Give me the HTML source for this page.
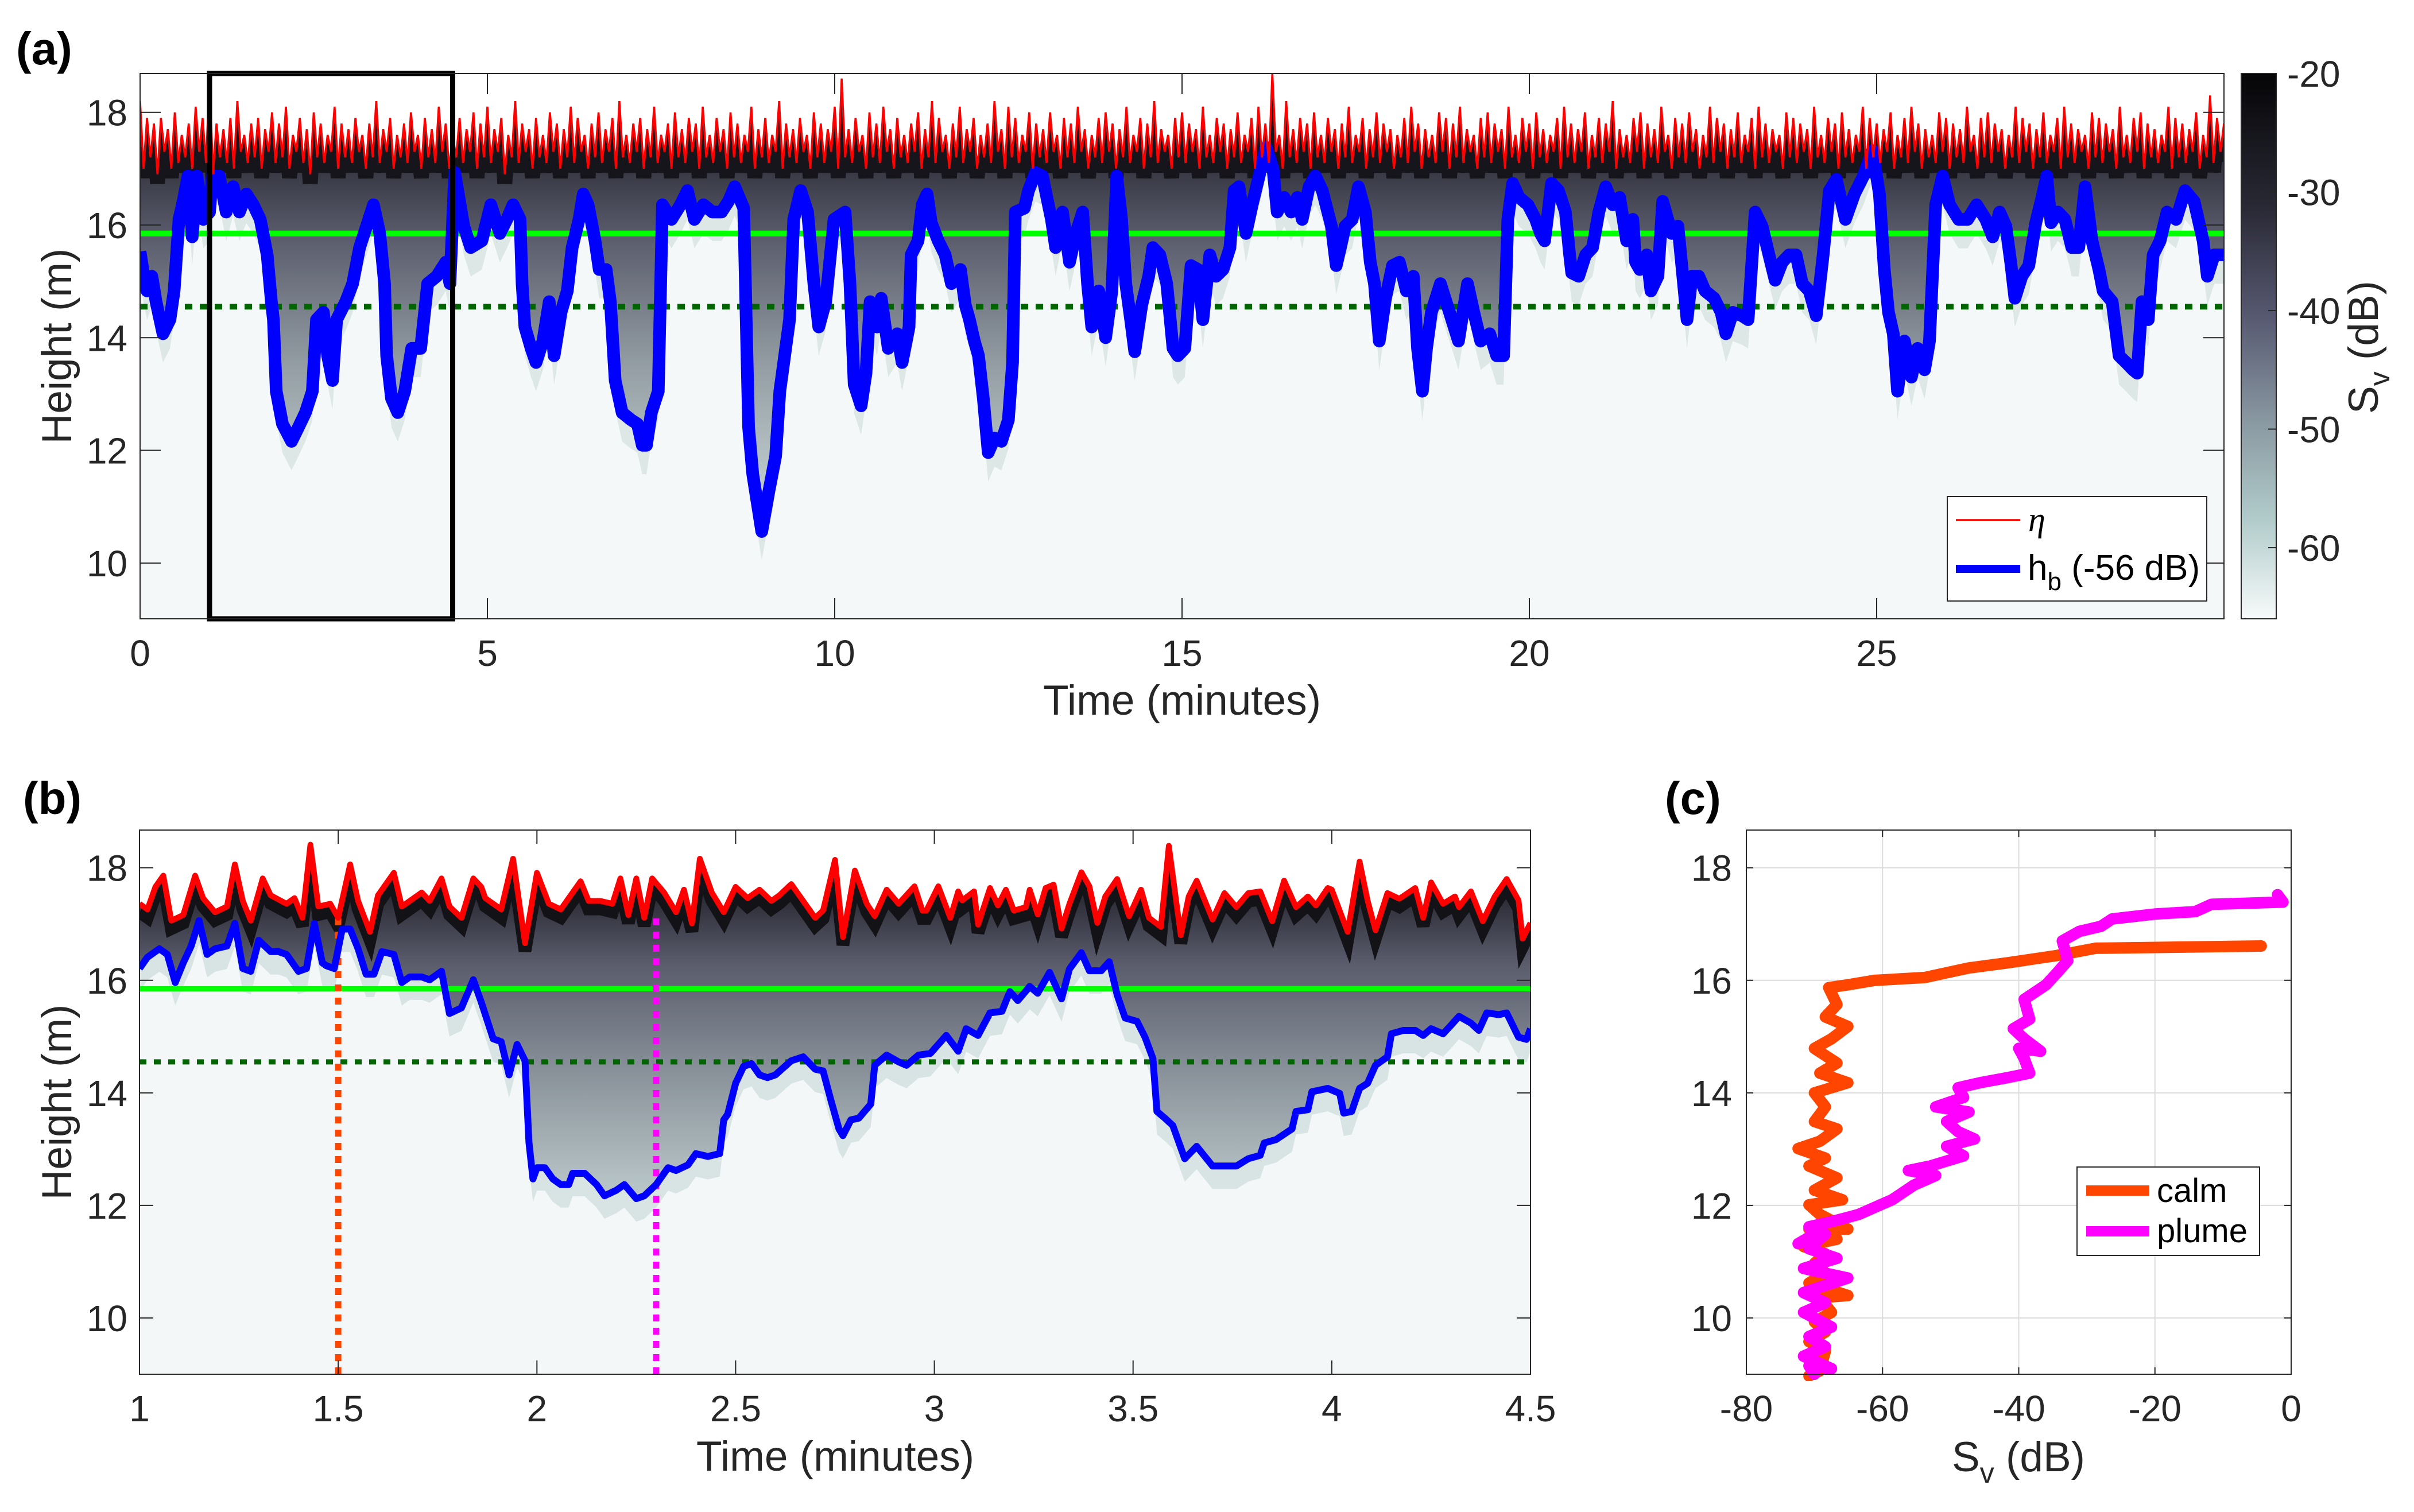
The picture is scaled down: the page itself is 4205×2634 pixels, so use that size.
<!DOCTYPE html>
<html><head><meta charset="utf-8"><style>
html,body{margin:0;padding:0;background:#fff;}
svg{display:block;font-family:"Liberation Sans",Arial,sans-serif;}
</style></head><body>
<svg id="fig" width="4205" height="2634" viewBox="0 0 4205 2634" xmlns="http://www.w3.org/2000/svg">
<defs>
<linearGradient id="cbGrad" x1="0" y1="0" x2="0" y2="1">
<stop offset="0" stop-color="#050507"/><stop offset="0.25" stop-color="#2a2a36"/><stop offset="0.45" stop-color="#585a72"/><stop offset="0.65" stop-color="#8c9ca4"/><stop offset="0.82" stop-color="#b2cccb"/><stop offset="1" stop-color="#f7fafa"/>
</linearGradient>
<linearGradient id="echoA" gradientUnits="userSpaceOnUse" x1="0" y1="250" x2="0" y2="900">
<stop offset="0" stop-color="#2a2a34"/><stop offset="0.25" stop-color="#5a5c6c"/><stop offset="0.6" stop-color="#949ea4"/><stop offset="1" stop-color="#c8d6d6"/>
</linearGradient>
<linearGradient id="echoB" gradientUnits="userSpaceOnUse" x1="0" y1="1560" x2="0" y2="2150">
<stop offset="0" stop-color="#2a2a34"/><stop offset="0.2" stop-color="#5a5c6c"/><stop offset="0.6" stop-color="#949ea4"/><stop offset="1" stop-color="#cad8d8"/>
</linearGradient>
</defs>
<g id="root"></g>
</svg>
<script>
// ---------- DATA ----------
// Panel (a) wave surface eta, sampled every 0.05 min from 0 to 30 min
const etaA = [
18.2,17.0,17.9,17.2,17.8,16.9,17.9,17.3,17.7,17.0,18.0,17.1,17.6,17.2,17.8,17.0,18.1,17.3,17.9,17.1,
18.6,16.9,17.8,17.2,17.7,17.1,17.9,17.0,18.2,17.3,17.6,17.1,17.8,17.2,17.9,17.0,17.7,17.3,18.0,17.1,
17.8,17.2,18.1,17.0,17.6,17.3,17.9,17.1,17.7,16.9,18.0,17.2,17.8,17.1,17.6,17.3,18.1,17.0,17.8,17.2,
17.7,17.1,17.9,17.3,17.6,17.0,17.8,17.2,18.2,17.1,17.7,17.3,17.9,17.0,17.6,17.2,17.8,17.1,18.0,17.3,
17.6,17.0,17.9,17.2,17.7,17.1,18.1,17.3,17.8,17.0,17.6,17.2,17.9,17.1,17.7,17.3,18.0,17.0,17.8,17.2,
18.1,17.1,17.7,17.3,17.9,16.9,17.6,17.2,18.2,17.1,17.8,17.3,17.7,17.0,17.9,17.2,17.6,17.1,18.0,17.3,
17.8,17.0,17.7,17.2,18.1,17.1,17.9,17.3,17.6,17.0,17.8,17.2,18.0,17.1,17.7,17.3,17.9,17.0,18.2,17.2,
17.6,17.1,17.8,17.3,17.9,17.0,17.7,17.2,18.1,17.1,17.6,17.3,17.8,17.0,18.0,17.2,17.7,17.1,17.9,17.3,
17.8,17.0,18.1,17.2,17.6,17.1,17.9,17.3,17.7,17.0,18.0,17.2,17.8,17.1,17.6,17.3,18.1,17.0,17.7,17.2,
17.9,17.1,17.6,17.3,18.2,17.0,17.8,17.2,17.7,17.1,17.9,17.3,17.6,17.0,18.0,17.2,17.8,17.1,17.7,17.3,
18.1,17.0,18.6,17.2,17.7,17.1,17.9,17.3,17.6,17.0,18.0,17.2,17.8,17.1,18.1,17.3,17.7,17.0,17.9,17.2,
17.6,17.1,17.8,17.3,18.0,17.0,17.7,17.2,18.2,17.1,17.9,17.3,17.6,17.0,17.8,17.2,18.1,17.1,17.7,17.3,
17.9,17.0,17.6,17.2,17.8,17.1,18.2,17.3,17.7,17.0,18.1,17.2,17.9,17.1,17.6,17.3,18.0,17.0,17.8,17.2,
17.7,17.1,18.0,17.3,17.6,17.0,17.9,17.2,17.8,17.1,18.1,17.3,17.7,17.0,17.6,17.2,17.9,17.1,18.0,17.3,
17.8,17.0,17.7,17.2,18.1,17.1,17.6,17.3,17.9,17.0,17.8,17.2,18.2,17.1,17.7,17.3,17.6,17.0,17.9,17.2,
18.0,17.1,17.8,17.3,17.7,17.0,18.1,17.2,17.6,17.1,17.9,17.3,17.8,17.0,17.7,17.2,18.0,17.1,17.6,17.3,
17.9,17.0,18.1,17.2,17.8,17.1,18.7,17.3,17.6,17.0,18.2,17.2,17.7,17.1,17.9,17.3,17.8,17.0,18.0,17.2,
17.6,17.1,17.9,17.3,17.7,17.0,17.8,17.2,18.1,17.1,17.6,17.3,17.9,17.0,17.7,17.2,18.0,17.1,17.8,17.3,
17.7,17.0,17.6,17.2,17.9,17.1,18.1,17.3,17.8,17.0,17.7,17.2,17.6,17.1,18.0,17.3,17.9,17.0,17.8,17.2,
18.1,17.1,17.7,17.3,17.6,17.0,17.9,17.2,18.0,17.1,17.8,17.3,17.7,17.0,18.1,17.2,17.6,17.1,17.9,17.3,
17.8,17.0,18.0,17.2,17.7,17.1,17.6,17.3,17.9,17.0,18.1,17.2,17.8,17.1,17.7,17.3,18.0,17.0,17.6,17.2,
17.9,17.1,17.8,17.3,18.2,17.0,17.7,17.2,17.6,17.1,17.9,17.3,18.0,17.0,17.8,17.2,17.7,17.1,18.1,17.3,
17.6,17.0,17.9,17.2,17.8,17.1,18.0,17.3,17.7,17.0,17.6,17.2,18.1,17.1,17.9,17.3,17.8,17.0,17.7,17.2,
18.0,17.1,17.6,17.3,17.9,17.0,18.1,17.2,17.8,17.1,17.7,17.3,17.6,17.0,18.0,17.2,17.9,17.1,17.8,17.3,
17.7,17.0,18.1,17.2,17.6,17.1,17.9,17.3,17.8,17.0,18.0,17.2,17.7,17.1,17.6,17.3,18.1,17.0,17.9,17.2,
17.8,17.1,17.7,17.3,18.0,17.0,17.6,17.2,17.9,17.1,18.1,17.3,17.8,17.0,17.7,17.2,17.6,17.1,18.0,17.3,
17.9,17.0,17.8,17.2,17.7,17.1,18.1,17.3,17.6,17.0,17.9,17.2,18.0,17.1,17.8,17.3,17.7,17.0,17.6,17.2,
18.1,17.1,17.9,17.3,17.8,17.0,17.7,17.2,18.0,17.1,17.6,17.3,17.9,17.0,18.1,17.2,17.8,17.1,17.7,17.3,
17.6,17.0,18.0,17.2,17.9,17.1,17.8,17.3,17.7,17.0,18.1,17.2,17.6,17.1,17.9,17.3,18.0,17.0,17.8,17.2,
17.7,17.1,17.6,17.3,18.1,17.0,17.9,17.2,17.8,17.1,17.7,17.3,18.0,17.0,17.6,17.2,18.3,17.1,17.9,17.3,17.8
];
const etaAStep = 0.05;
// Panel (a) bubble-plume depth hb (time in minutes, height in m)
const hbAT = [0,0.04,0.10,0.17,0.23,0.33,0.43,0.49,0.56,0.62,0.69,0.75,0.82,0.91,1.00,1.04,1.14,1.24,1.34,1.43,1.53,1.63,1.73,1.83,1.89,1.92,1.96,2.05,2.18,2.28,2.38,2.48,2.54,2.64,2.70,2.77,2.83,2.96,3.06,3.16,3.26,3.36,3.45,3.52,3.55,3.62,3.71,3.81,3.91,4.04,4.14,4.27,4.40,4.46,4.53,4.66,4.76,4.92,5.05,5.18,5.28,5.37,5.47,5.50,5.54,5.63,5.70,5.80,5.89,5.96,6.06,6.15,6.22,6.32,6.38,6.45,6.55,6.61,6.71,6.77,6.84,6.94,7.07,7.16,7.23,7.29,7.36,7.46,7.52,7.65,7.78,7.88,7.98,8.11,8.24,8.37,8.47,8.56,8.69,8.76,8.82,8.95,9.05,9.15,9.21,9.35,9.41,9.51,9.61,9.70,9.77,9.87,9.99,10.15,10.22,10.28,10.38,10.45,10.51,10.61,10.67,10.77,10.90,10.97,11.07,11.10,11.20,11.26,11.33,11.39,11.49,11.59,11.68,11.81,11.88,11.94,12.01,12.07,12.14,12.21,12.30,12.40,12.50,12.56,12.60,12.73,12.79,12.89,12.99,13.12,13.18,13.28,13.38,13.47,13.57,13.64,13.70,13.80,13.90,13.99,14.06,14.13,14.19,14.26,14.32,14.42,14.52,14.58,14.68,14.78,14.87,14.94,15.04,15.13,15.23,15.30,15.40,15.49,15.59,15.69,15.75,15.82,15.92,16.01,16.11,16.21,16.31,16.37,16.47,16.57,16.66,16.73,16.83,16.92,17.02,17.15,17.22,17.28,17.35,17.45,17.54,17.64,17.71,17.77,17.84,17.93,18.03,18.13,18.23,18.33,18.39,18.46,18.52,18.59,18.72,18.85,18.98,19.11,19.20,19.30,19.43,19.53,19.63,19.69,19.76,19.85,19.98,20.09,20.16,20.22,20.32,20.42,20.52,20.58,20.61,20.71,20.81,20.91,21.00,21.10,21.20,21.30,21.40,21.49,21.53,21.59,21.69,21.75,21.85,21.92,22.05,22.14,22.27,22.34,22.44,22.53,22.66,22.76,22.83,22.93,23.06,23.15,23.25,23.35,23.45,23.54,23.64,23.74,23.84,23.93,24.03,24.13,24.23,24.32,24.42,24.55,24.68,24.81,24.94,25.04,25.11,25.17,25.24,25.30,25.40,25.50,25.59,25.69,25.76,25.85,25.95,26.05,26.18,26.31,26.44,26.57,26.67,26.77,26.86,26.93,26.99,27.09,27.19,27.29,27.38,27.45,27.51,27.61,27.71,27.81,27.91,28.00,28.10,28.20,28.26,28.39,28.49,28.59,28.69,28.75,28.82,28.91,28.98,29.08,29.18,29.31,29.44,29.57,29.70,29.76,29.86,29.92,30.0];
const hbAH = [15.53,15.21,14.83,15.09,14.64,14.07,14.32,14.83,16.10,16.42,16.87,15.79,16.87,16.10,16.23,16.87,16.87,16.23,16.68,16.23,16.55,16.36,16.10,15.47,14.64,14.32,13.05,12.47,12.16,12.41,12.67,13.05,14.32,14.45,13.68,13.24,14.32,14.64,14.96,15.60,15.98,16.36,15.85,14.96,13.68,12.92,12.67,13.05,13.81,13.81,14.96,15.09,15.34,14.96,16.93,15.98,15.60,15.72,16.36,15.85,16.10,16.36,16.10,14.96,14.19,13.81,13.56,13.94,14.64,13.68,14.45,14.83,15.60,16.10,16.55,16.36,15.72,15.21,15.21,14.64,13.24,12.67,12.54,12.47,12.09,12.09,12.67,13.05,16.36,16.10,16.36,16.61,16.10,16.36,16.23,16.23,16.42,16.68,16.30,12.41,11.58,10.56,11.26,11.90,13.05,14.32,16.10,16.61,16.23,14.96,14.19,14.64,16.10,16.23,14.96,13.17,12.79,13.37,14.64,14.19,14.70,13.81,14.07,13.56,14.19,15.47,15.72,16.36,16.55,16.04,15.72,15.47,14.96,15.21,14.58,14.32,13.94,13.68,12.92,11.96,12.22,12.16,12.54,13.56,16.23,16.30,16.61,16.93,16.87,16.10,15.60,16.23,15.34,15.85,16.23,14.96,14.19,14.83,14.00,14.83,16.87,16.10,14.96,14.32,13.75,14.58,15.09,15.60,15.47,14.96,13.81,13.68,13.81,15.28,15.21,14.32,15.47,15.09,15.21,15.60,16.61,16.68,15.85,16.36,16.87,17.38,17.00,16.23,16.49,16.23,16.49,16.10,16.68,16.87,16.61,15.98,15.28,15.60,15.98,16.10,16.68,16.23,15.34,14.96,13.94,14.70,15.28,15.34,14.83,15.09,13.81,13.05,13.81,14.45,14.96,14.45,13.94,14.96,14.45,13.94,14.07,13.68,13.68,16.10,16.74,16.49,16.36,16.10,15.85,15.72,16.74,16.61,16.23,15.47,15.15,15.09,15.47,15.60,16.23,16.68,16.36,16.49,15.72,16.10,15.34,15.21,15.47,14.83,15.09,16.42,15.85,15.98,14.32,15.09,15.09,14.83,14.70,14.45,14.07,14.45,14.39,14.32,16.23,15.98,15.47,15.02,15.34,15.47,15.47,14.96,14.83,14.39,15.47,16.61,16.81,16.10,16.55,16.87,17.32,16.55,15.21,14.45,14.07,13.05,13.94,13.30,13.81,13.43,13.94,16.36,16.87,16.36,16.10,16.10,16.36,16.10,15.79,16.23,15.98,15.34,14.70,15.09,15.28,16.04,16.49,16.87,16.04,16.23,16.10,15.60,15.60,16.68,15.72,15.21,14.83,14.64,13.68,13.56,13.43,13.37,14.64,14.32,15.47,15.72,16.23,16.10,16.61,16.42,15.72,15.09,15.47,15.47,15.47];
// Panel (b) zoom 1-4.5 min
const etaBT = [1.00,1.02,1.04,1.06,1.08,1.11,1.14,1.16,1.19,1.22,1.24,1.26,1.28,1.31,1.33,1.37,1.39,1.41,1.43,1.45,1.48,1.50,1.53,1.55,1.58,1.60,1.64,1.66,1.68,1.71,1.73,1.76,1.78,1.81,1.84,1.86,1.87,1.91,1.94,1.97,2.00,2.03,2.06,2.09,2.11,2.13,2.16,2.19,2.21,2.23,2.25,2.27,2.29,2.32,2.35,2.37,2.39,2.41,2.44,2.47,2.50,2.53,2.56,2.59,2.61,2.64,2.70,2.72,2.75,2.77,2.80,2.83,2.85,2.88,2.91,2.95,2.97,2.98,3.01,3.03,3.04,3.06,3.07,3.10,3.11,3.14,3.16,3.18,3.20,3.23,3.24,3.26,3.28,3.30,3.32,3.34,3.37,3.39,3.41,3.43,3.46,3.49,3.52,3.54,3.57,3.59,3.62,3.64,3.66,3.70,3.73,3.76,3.79,3.82,3.85,3.88,3.91,3.94,3.96,3.99,4.00,4.04,4.07,4.09,4.11,4.14,4.17,4.21,4.23,4.25,4.28,4.31,4.32,4.35,4.38,4.41,4.44,4.47,4.48,4.50];
const etaBH = [17.36,17.26,17.66,17.86,17.06,17.16,17.86,17.46,17.21,17.31,18.06,17.41,17.06,17.81,17.51,17.36,17.46,17.11,18.41,17.31,17.36,17.11,18.06,17.41,16.86,17.51,17.91,17.31,17.41,17.56,17.41,17.81,17.31,17.11,17.81,17.66,17.46,17.26,18.16,16.66,17.91,17.36,17.26,17.56,17.76,17.41,17.41,17.36,17.81,17.16,17.81,17.11,17.81,17.56,17.21,17.61,17.01,18.16,17.56,17.21,17.66,17.46,17.61,17.41,17.51,17.71,17.11,17.24,18.14,16.77,17.95,17.36,17.14,17.61,17.36,17.67,17.24,17.24,17.67,17.30,17.11,17.58,17.42,17.58,16.99,17.64,17.33,17.61,17.24,17.30,17.61,17.17,17.64,17.70,16.92,17.36,17.92,17.67,17.02,17.49,17.80,17.14,17.61,17.11,16.95,18.39,16.80,17.49,17.77,17.08,17.55,17.30,17.55,17.58,17.05,17.77,17.30,17.49,17.33,17.64,17.61,16.86,18.11,17.42,16.89,17.55,17.45,17.64,17.11,17.74,17.36,17.49,17.30,17.58,17.05,17.49,17.80,17.42,16.74,17.02];
const hbBT = [1.00,1.02,1.05,1.07,1.09,1.11,1.13,1.15,1.17,1.19,1.22,1.24,1.26,1.28,1.30,1.33,1.35,1.37,1.40,1.42,1.44,1.46,1.47,1.49,1.51,1.53,1.55,1.57,1.59,1.61,1.64,1.66,1.68,1.71,1.73,1.76,1.78,1.81,1.84,1.86,1.89,1.91,1.93,1.95,1.97,1.98,1.99,2.00,2.02,2.04,2.06,2.08,2.09,2.12,2.15,2.17,2.20,2.22,2.25,2.27,2.30,2.33,2.35,2.38,2.40,2.43,2.46,2.47,2.48,2.50,2.52,2.54,2.56,2.58,2.60,2.64,2.67,2.70,2.72,2.74,2.76,2.77,2.79,2.81,2.84,2.85,2.88,2.91,2.93,2.96,2.99,3.03,3.06,3.08,3.11,3.14,3.17,3.19,3.21,3.24,3.26,3.29,3.32,3.34,3.37,3.39,3.42,3.44,3.46,3.48,3.51,3.53,3.55,3.56,3.58,3.60,3.63,3.66,3.70,3.73,3.76,3.79,3.82,3.83,3.86,3.90,3.91,3.94,3.95,3.99,4.02,4.03,4.05,4.07,4.09,4.11,4.14,4.15,4.18,4.21,4.23,4.25,4.28,4.30,4.32,4.35,4.37,4.39,4.42,4.44,4.47,4.49,4.50];
const hbBH = [16.21,16.41,16.56,16.46,15.96,16.31,16.61,17.06,16.46,16.56,16.61,17.01,16.21,16.16,16.71,16.51,16.51,16.46,16.16,16.21,17.01,16.31,16.26,16.21,16.91,16.91,16.56,16.11,16.11,16.51,16.46,15.96,16.06,16.06,16.01,16.16,15.41,15.51,16.01,15.61,14.96,14.91,14.32,14.86,14.57,13.12,12.47,12.67,12.67,12.47,12.37,12.37,12.57,12.57,12.37,12.17,12.27,12.37,12.12,12.17,12.37,12.67,12.62,12.72,12.92,12.87,12.92,13.52,13.62,14.17,14.47,14.52,14.32,14.27,14.32,14.57,14.64,14.42,14.39,13.86,13.36,13.24,13.52,13.55,13.80,14.49,14.67,14.55,14.49,14.67,14.70,15.02,14.74,15.14,15.02,15.42,15.45,15.80,15.64,15.89,15.77,16.14,15.67,16.20,16.49,16.17,16.17,16.33,15.74,15.33,15.27,14.99,14.61,13.67,13.55,13.42,12.83,13.05,12.70,12.70,12.70,12.83,12.89,13.11,13.17,13.36,13.67,13.70,14.02,14.08,13.99,13.64,13.67,14.08,14.17,14.49,14.64,15.05,15.11,15.11,15.02,15.14,15.05,15.20,15.36,15.24,15.11,15.42,15.39,15.42,14.99,14.95,15.14];
// Panel (c) Sv profiles
const calmSv = [-70.8,-69.2,-68.4,-70.8,-68.4,-70.0,-67.5,-69.2,-65.1,-70.8,-68.4,-70.0,-68.4,-71.6,-66.7,-70.8,-65.1,-69.2,-70.8,-65.9,-70.0,-66.7,-70.8,-68.4,-72.4,-69.2,-66.7,-70.0,-68.4,-70.0,-65.1,-69.2,-66.7,-70.0,-67.5,-65.1,-68.4,-66.7,-67.9,-65.1,-61.1,-53.8,-47.3,-41.7,-34.4,-28.7,-4.4];
const calmH = [8.97,9.06,9.41,9.58,9.75,9.93,10.10,10.36,10.40,10.62,10.80,10.97,11.14,11.27,11.40,11.58,11.58,11.84,12.01,12.10,12.27,12.49,12.70,12.84,13.01,13.14,13.36,13.49,13.75,14.00,14.18,14.35,14.53,14.79,14.96,15.18,15.35,15.57,15.87,15.92,16.00,16.05,16.22,16.31,16.44,16.57,16.61];
const plumeSv = [-70.0,-70.8,-67.5,-71.6,-68.4,-70.8,-67.5,-71.6,-68.4,-71.6,-65.1,-71.6,-66.7,-70.8,-68.4,-72.4,-70.0,-70.8,-67.5,-63.5,-60.3,-58.6,-55.4,-52.2,-56.2,-53.0,-48.1,-50.6,-46.5,-48.9,-50.6,-47.3,-52.2,-48.1,-48.9,-45.7,-41.7,-38.4,-39.2,-40.0,-36.8,-39.2,-40.8,-38.4,-39.2,-36.0,-34.4,-32.8,-33.6,-31.1,-27.9,-26.3,-19.8,-14.1,-11.7,-1.2,-2.0];
const plumeH = [9.00,9.15,9.10,9.32,9.49,9.67,9.84,10.10,10.27,10.45,10.71,10.88,11.06,11.23,11.49,11.32,11.49,11.62,11.71,11.84,12.01,12.10,12.36,12.53,12.62,12.70,12.88,13.05,13.18,13.31,13.49,13.66,13.75,13.92,14.09,14.18,14.27,14.35,14.61,14.79,14.74,14.96,15.14,15.31,15.66,15.92,16.13,16.35,16.70,16.87,16.96,17.09,17.18,17.22,17.35,17.39,17.52];
// Ticks
const ticksAX = [0,5,10,15,20,25];
const ticksY = [10,12,14,16,18];
const ticksBX = [1,1.5,2,2.5,3,3.5,4,4.5];
const ticksBXLabels = ["1","1.5","2","2.5","3","3.5","4","4.5"];
const ticksCX = [-80,-60,-40,-20,0];
const ticksCB = [-20,-30,-40,-50,-60];
const refLines = [15.85,14.55];   // solid green, dotted dark green
const zoomWindow = [1,4.5];
const profileTimes = [1.5,2.3];   // calm, plume
const profileTop = [17.16,17.16];

// ---------- SCALES ----------
const A = {x0:244,x1:3874,y0:128,y1:1078,tmin:0,tmax:30,hmin:9.01,hmax:18.69};
const B = {x0:243,x1:2666,y0:1446,y1:2394,tmin:1,tmax:4.5,hmin:9.0,hmax:18.67};
const C = {x0:3042,x1:3991,y0:1446,y1:2394,tmin:-80,tmax:0,hmin:9.0,hmax:18.67};
const CB = {x0:3904,x1:3965,y0:128,y1:1078,vmin:-66,vmax:-20};
function sx(P,t){return P.x0+(t-P.tmin)/(P.tmax-P.tmin)*(P.x1-P.x0);}
function sy(P,h){return P.y1-(h-P.hmin)/(P.hmax-P.hmin)*(P.y1-P.y0);}
function cby(v){return CB.y1-(v-CB.vmin)/(CB.vmax-CB.vmin)*(CB.y1-CB.y0);}

const NS='http://www.w3.org/2000/svg';
const root=document.getElementById('root');
function el(tag,attrs,parent){const e=document.createElementNS(NS,tag);for(const k in attrs)e.setAttribute(k,attrs[k]);(parent||root).appendChild(e);return e;}
function txt(s,attrs,parent){const e=el('text',attrs,parent);e.textContent=s;return e;}
function pts(P,T,H){let s='';for(let i=0;i<T.length;i++){s+=sx(P,T[i]).toFixed(1)+','+sy(P,H[i]).toFixed(1)+' ';}return s;}
const etaAT = etaA.map((v,i)=>i*etaAStep);

// ---------- PANEL A ----------
const ga=el('g',{});


let clipA=el('clipPath',{id:'clipA'});el('rect',{x:A.x0,y:A.y0,width:A.x1-A.x0,height:A.y1-A.y0},clipA);
const bgA=el('rect',{x:A.x0,y:A.y0,width:A.x1-A.x0,height:A.y1-A.y0,fill:'#f5f8f8'},ga);


const inA=el('g',{'clip-path':'url(#clipA)'},ga);
const hazeA=el('polygon',{points:pts(A,hbAT,hbAH.map(h=>h+0.2))+sx(A,30)+','+A.y0+' '+sx(A,0)+','+A.y0,fill:'#dde7e6',transform:'translate(0,70)'},inA);


const echoA=el('polygon',{points:pts(A,hbAT,hbAH)+sx(A,30)+','+sy(A,17.6)+' '+sx(A,0)+','+sy(A,17.6),fill:'url(#echoA)'},inA);


const darkA=el('polyline',{points:pts(A,etaAT,etaA),fill:'none',stroke:'#15151b','stroke-width':26,transform:'translate(0,16)'},inA);


const maskA=el('polygon',{points:pts(A,etaAT,etaA)+sx(A,30)+','+(A.y0-5)+' '+sx(A,0)+','+(A.y0-5),fill:'#ffffff'},inA);


const gl=el('line',{x1:A.x0,x2:A.x1,y1:sy(A,refLines[0]),y2:sy(A,refLines[0]),stroke:'#00ff00','stroke-width':10},inA);


const dl=el('line',{x1:A.x0,x2:A.x1,y1:sy(A,refLines[1]),y2:sy(A,refLines[1]),stroke:'#006400','stroke-width':10,'stroke-dasharray':'13 13'},inA);


const hbA=el('polyline',{points:pts(A,hbAT,hbAH),fill:'none',stroke:'#0000ff','stroke-width':22,'stroke-linejoin':'round'},inA);


const etaLA=el('polyline',{points:pts(A,etaAT,etaA),fill:'none',stroke:'#ff0000','stroke-width':3.5},inA);


const box=el('rect',{x:sx(A,zoomWindow[0]),y:A.y0,width:sx(A,zoomWindow[1])-sx(A,zoomWindow[0]),height:A.y1-A.y0,fill:'none',stroke:'#000','stroke-width':9},ga);


const frA=el('rect',{x:A.x0,y:A.y0,width:A.x1-A.x0,height:A.y1-A.y0,fill:'none',stroke:'#262626','stroke-width':2},ga);


ticksAX.forEach(t=>{const x=sx(A,t);
 el('line',{x1:x,x2:x,y1:A.y1,y2:A.y1-36,stroke:'#262626','stroke-width':2},ga);
 el('line',{x1:x,x2:x,y1:A.y0,y2:A.y0+36,stroke:'#262626','stroke-width':2},ga);
 const l=txt(String(t),{x:x,y:1160,'font-size':64,fill:'#262626','text-anchor':'middle'},ga);
 
 });
ticksY.forEach(h=>{const y=sy(A,h);
 el('line',{x1:A.x0,x2:A.x0+36,y1:y,y2:y,stroke:'#262626','stroke-width':2},ga);
 el('line',{x1:A.x1,x2:A.x1-36,y1:y,y2:y,stroke:'#262626','stroke-width':2},ga);
 const l=txt(String(h),{x:222,y:y+23,'font-size':64,fill:'#262626','text-anchor':'end'},ga);
 
 });
const xlA=txt('Time (minutes)',{x:2059,y:1245,'font-size':73,fill:'#262626','text-anchor':'middle'},ga);


const ylA=txt('Height (m)',{x:0,y:0,'font-size':73,fill:'#262626','text-anchor':'middle',transform:'translate(124,603) rotate(-90)'},ga);


const pa=txt('(a)',{x:28,y:112,'font-size':80,'font-weight':'bold',fill:'#000'},ga);


const lgA=el('g',{},ga);


el('rect',{x:3392,y:865,width:452,height:182,fill:'#fff',stroke:'#262626','stroke-width':2},lgA);
el('line',{x1:3407,x2:3519,y1:906,y2:906,stroke:'#ff0000','stroke-width':3.5},lgA);
const le1=txt('η',{x:3533,y:925,'font-size':60,'font-style':'italic',fill:'#000',"font-family":'"Liberation Serif",serif'},lgA);


el('line',{x1:3407,x2:3519,y1:991,y2:991,stroke:'#0000ff','stroke-width':14},lgA);
const le2=el('text',{x:3532,y:1010,'font-size':62,fill:'#000'},lgA);


le2.innerHTML='h<tspan font-size="44" dy="18">b</tspan><tspan dy="-18"> (-56 dB)</tspan>';

// colorbar
const cb=el('g',{});


el('rect',{x:CB.x0,y:CB.y0,width:CB.x1-CB.x0,height:CB.y1-CB.y0,fill:'url(#cbGrad)',stroke:'#262626','stroke-width':2},cb);
ticksCB.forEach(v=>{const y=cby(v);
 el('line',{x1:CB.x1,x2:CB.x1-14,y1:y,y2:y,stroke:'#262626','stroke-width':2},cb);
 const l=txt(String(v),{x:3984,y:y+23,'font-size':64,fill:'#262626'},cb);
 
 });
const cbl=el('text',{x:0,y:0,'font-size':73,fill:'#262626','text-anchor':'middle',transform:'translate(4142,605) rotate(-90)'},cb);


cbl.innerHTML='S<tspan font-size="50" dy="20">v</tspan><tspan dy="-20"> (dB)</tspan>';

// ---------- PANEL B ----------
const gb=el('g',{});


let clipB=el('clipPath',{id:'clipB'});el('rect',{x:B.x0,y:B.y0,width:B.x1-B.x0,height:B.y1-B.y0},clipB);
el('rect',{x:B.x0,y:B.y0,width:B.x1-B.x0,height:B.y1-B.y0,fill:'#f4f7f7'},gb);
const inB=el('g',{'clip-path':'url(#clipB)'},gb);
const hazeB=el('polygon',{points:pts(B,hbBT,hbBH)+sx(B,4.5)+','+B.y0+' '+sx(B,1)+','+B.y0,fill:'#d8e4e3',transform:'translate(0,40)'},inB);


const echoB=el('polygon',{points:pts(B,hbBT,hbBH)+sx(B,4.5)+','+sy(B,17.6)+' '+sx(B,1)+','+sy(B,17.6),fill:'url(#echoB)'},inB);


const darkB=el('polyline',{points:pts(B,etaBT,etaBH),fill:'none',stroke:'#121217','stroke-width':22,transform:'translate(0,14)'},inB);


const maskB=el('polygon',{points:pts(B,etaBT,etaBH)+sx(B,4.5)+','+(B.y0-5)+' '+sx(B,1)+','+(B.y0-5),fill:'#ffffff'},inB);


const glb=el('line',{x1:B.x0,x2:B.x1,y1:sy(B,refLines[0]),y2:sy(B,refLines[0]),stroke:'#00ff00','stroke-width':9},inB);


const dlb=el('line',{x1:B.x0,x2:B.x1,y1:sy(B,refLines[1]),y2:sy(B,refLines[1]),stroke:'#006400','stroke-width':9,'stroke-dasharray':'12 13'},inB);


const vcol=['#ff4500','#ff00ff'];
profileTimes.forEach((t,i)=>{const v=el('line',{x1:sx(B,t),x2:sx(B,t),y1:B.y1,y2:sy(B,profileTop[i]),stroke:vcol[i],'stroke-width':11,'stroke-dasharray':'12 11'},inB);
 
 });
const hbLB=el('polyline',{points:pts(B,hbBT,hbBH),fill:'none',stroke:'#0000ff','stroke-width':12,'stroke-linejoin':'round'},inB);


const etaLB=el('polyline',{points:pts(B,etaBT,etaBH),fill:'none',stroke:'#ff0000','stroke-width':10,'stroke-linejoin':'round'},inB);


el('rect',{x:B.x0,y:B.y0,width:B.x1-B.x0,height:B.y1-B.y0,fill:'none',stroke:'#262626','stroke-width':2},gb);
ticksBX.forEach((t,i)=>{const x=sx(B,t);
 el('line',{x1:x,x2:x,y1:B.y1,y2:B.y1-24,stroke:'#262626','stroke-width':2},gb);
 el('line',{x1:x,x2:x,y1:B.y0,y2:B.y0+24,stroke:'#262626','stroke-width':2},gb);
 const l=txt(ticksBXLabels[i],{x:x,y:2476,'font-size':64,fill:'#262626','text-anchor':'middle'},gb);
 
 });
ticksY.forEach(h=>{const y=sy(B,h);
 el('line',{x1:B.x0,x2:B.x0+24,y1:y,y2:y,stroke:'#262626','stroke-width':2},gb);
 el('line',{x1:B.x1,x2:B.x1-24,y1:y,y2:y,stroke:'#262626','stroke-width':2},gb);
 const l=txt(String(h),{x:222,y:y+23,'font-size':64,fill:'#262626','text-anchor':'end'},gb);
 
 });
const xlB=txt('Time (minutes)',{x:1455,y:2562,'font-size':73,fill:'#262626','text-anchor':'middle'},gb);


const ylB=txt('Height (m)',{x:0,y:0,'font-size':73,fill:'#262626','text-anchor':'middle',transform:'translate(124,1920) rotate(-90)'},gb);


const pb=txt('(b)',{x:40,y:1418,'font-size':80,'font-weight':'bold',fill:'#000'},gb);



// ---------- PANEL C ----------
const gc=el('g',{});


ticksCX.forEach(d=>{const x=sx(C,d);
 el('line',{x1:x,x2:x,y1:C.y0,y2:C.y1,stroke:'#dcdcdc','stroke-width':2},gc);});
ticksY.forEach(h=>{const y=sy(C,h);
 el('line',{x1:C.x0,x2:C.x1,y1:y,y2:y,stroke:'#dcdcdc','stroke-width':2},gc);});
let clipC=el('clipPath',{id:'clipC'});el('rect',{x:C.x0-15,y:C.y0,width:C.x1-C.x0+30,height:C.y1-C.y0+12},clipC);
const inC=el('g',{'clip-path':'url(#clipC)'},gc);
const calmL=el('polyline',{points:pts(C,calmSv,calmH),fill:'none',stroke:'#ff4500','stroke-width':20,'stroke-linejoin':'round','stroke-linecap':'round'},inC);


const plumeL=el('polyline',{points:pts(C,plumeSv,plumeH),fill:'none',stroke:'#ff00ff','stroke-width':20,'stroke-linejoin':'round','stroke-linecap':'round'},inC);


el('rect',{x:C.x0,y:C.y0,width:C.x1-C.x0,height:C.y1-C.y0,fill:'none',stroke:'#262626','stroke-width':2},gc);
ticksCX.forEach(d=>{const x=sx(C,d);
 el('line',{x1:x,x2:x,y1:C.y1,y2:C.y1-12,stroke:'#262626','stroke-width':2},gc);
 el('line',{x1:x,x2:x,y1:C.y0,y2:C.y0+12,stroke:'#262626','stroke-width':2},gc);
 const l=txt(String(d),{x:x,y:2476,'font-size':64,fill:'#262626','text-anchor':'middle'},gc);
 
 });
ticksY.forEach(h=>{const y=sy(C,h);
 el('line',{x1:C.x0,x2:C.x0+12,y1:y,y2:y,stroke:'#262626','stroke-width':2},gc);
 el('line',{x1:C.x1,x2:C.x1-12,y1:y,y2:y,stroke:'#262626','stroke-width':2},gc);
 const l=txt(String(h),{x:3017,y:y+23,'font-size':64,fill:'#262626','text-anchor':'end'},gc);
 
 });
const xlC=el('text',{x:3516,y:2563,'font-size':73,fill:'#262626','text-anchor':'middle'},gc);


xlC.innerHTML='S<tspan font-size="50" dy="20">v</tspan><tspan dy="-20"> (dB)</tspan>';
const pc=txt('(c)',{x:2900,y:1418,'font-size':80,'font-weight':'bold',fill:'#000'},gc);


const lgC=el('g',{},gc);


el('rect',{x:3618,y:2033,width:318,height:154,fill:'#fff',stroke:'#262626','stroke-width':2},lgC);
el('line',{x1:3634,x2:3744,y1:2074,y2:2074,stroke:'#ff4500','stroke-width':18},lgC);
el('line',{x1:3634,x2:3744,y1:2145,y2:2145,stroke:'#ff00ff','stroke-width':18},lgC);
const lc1=txt('calm',{x:3757,y:2094,'font-size':58,fill:'#000'},lgC);


const lc2=txt('plume',{x:3757,y:2164,'font-size':58,fill:'#000'},lgC);


</script>
</body></html>
